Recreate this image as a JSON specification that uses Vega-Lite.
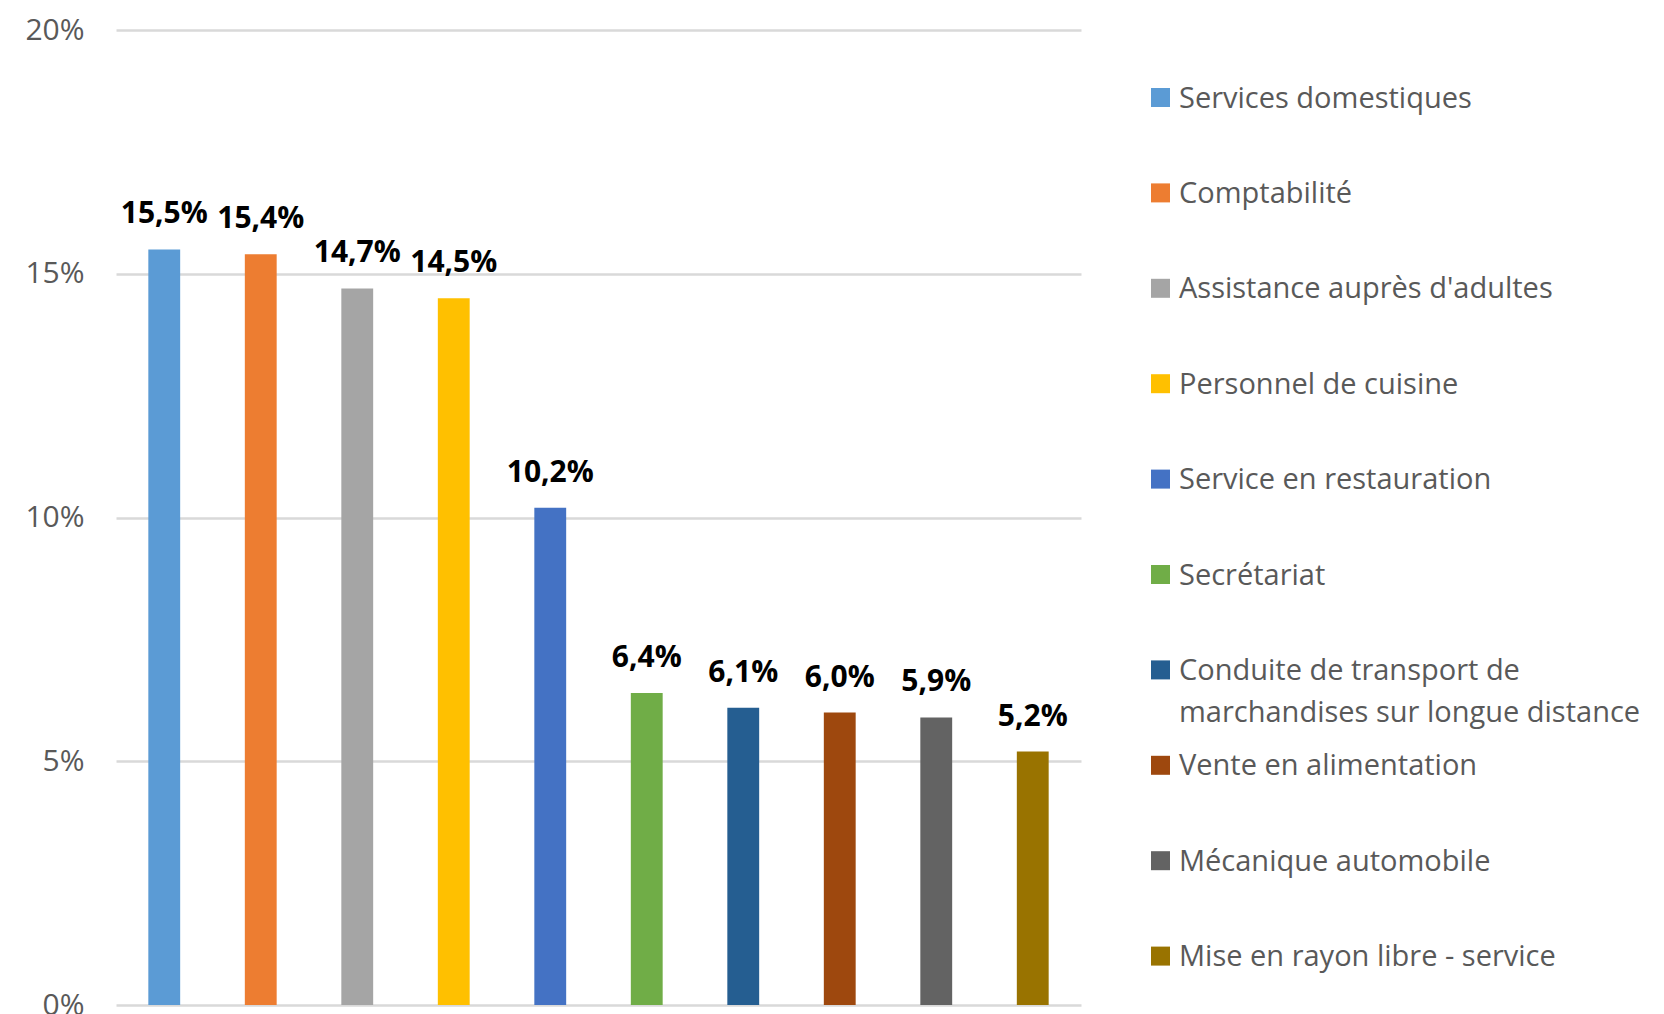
{
  "$schema": "https://vega.github.io/schema/vega-lite/v6.json",
  "width": 965,
  "height": 975,
  "padding": {"left": 24, "top": 15, "right": 0, "bottom": 0},
  "autosize": {"type": "pad"},
  "config": {
    "locale": {"number": {"decimal": ",", "thousands": " ", "grouping": [3], "currency": ["", " €"]}},
    "view": {"stroke": null},
    "font": "Open Sans"
  },
  "data": {
    "values": [
      {"metier": "Services domestiques", "part": 0.155},
      {"metier": "Comptabilité", "part": 0.154},
      {"metier": "Assistance auprès d'adultes", "part": 0.147},
      {"metier": "Personnel de cuisine", "part": 0.145},
      {"metier": "Service en restauration", "part": 0.102},
      {"metier": "Secrétariat", "part": 0.064},
      {"metier": "Conduite de transport de marchandises sur longue distance", "part": 0.061},
      {"metier": "Vente en alimentation", "part": 0.060},
      {"metier": "Mécanique automobile", "part": 0.059},
      {"metier": "Mise en rayon libre - service", "part": 0.052}
    ]
  },
  "encoding": {
    "x": {
      "field": "metier",
      "type": "nominal",
      "sort": null,
      "axis": null,
      "scale": {"paddingInner": 0.67, "paddingOuter": 0.335}
    },
    "y": {
      "field": "part",
      "type": "quantitative",
      "scale": {"domain": [0, 0.2]},
      "axis": {
        "values": [0, 0.05, 0.1, 0.15, 0.2],
        "format": ".0%",
        "title": null,
        "domain": false,
        "ticks": false,
        "labelFontSize": 30,
        "labelFont": "Open Sans",
        "labelColor": "#595959",
        "labelPadding": 32,
        "gridColor": "#D9D9D9",
        "gridWidth": 2.5
      }
    }
  },
  "layer": [
    {
      "mark": {"type": "bar"},
      "encoding": {
        "color": {
          "field": "metier",
          "type": "nominal",
          "sort": null,
          "scale": {
            "domain": ["Services domestiques", "Comptabilité", "Assistance auprès d'adultes", "Personnel de cuisine", "Service en restauration", "Secrétariat", "Conduite de transport de marchandises sur longue distance", "Vente en alimentation", "Mécanique automobile", "Mise en rayon libre - service"],
            "range": ["#5B9BD5", "#ED7D31", "#A5A5A5", "#FFC000", "#4472C4", "#70AD47", "#255E91", "#9E480E", "#636363", "#997300"]
          },
          "legend": {
            "title": null,
            "orient": "right",
            "offset": 12,
            "padding": 53,
            "symbolType": "square",
            "symbolSize": 361,
            "symbolStrokeWidth": 0,
            "labelFontSize": 29,
            "labelFont": "Open Sans",
            "labelColor": "#595959",
            "labelOffset": 4,
            "labelLimit": 700,
            "labelBaseline": "alphabetic",
            "rowPadding": 22.4,
            "gridAlign": "all",
            "labelExpr": "datum.label == 'Conduite de transport de marchandises sur longue distance' ? ['Conduite de transport de', 'marchandises sur longue distance'] : datum.label",
            "encode": {"labels": {"update": {"dy": {"value": 10}, "lineHeight": {"value": 42}}}}
          }
        }
      }
    },
    {
      "mark": {"type": "text", "baseline": "alphabetic", "dy": -26, "fontSize": 30, "fontWeight": "bold", "font": "Open Sans", "color": "#000000"},
      "encoding": {"text": {"field": "part", "type": "quantitative", "format": ".1%"}}
    }
  ]
}
